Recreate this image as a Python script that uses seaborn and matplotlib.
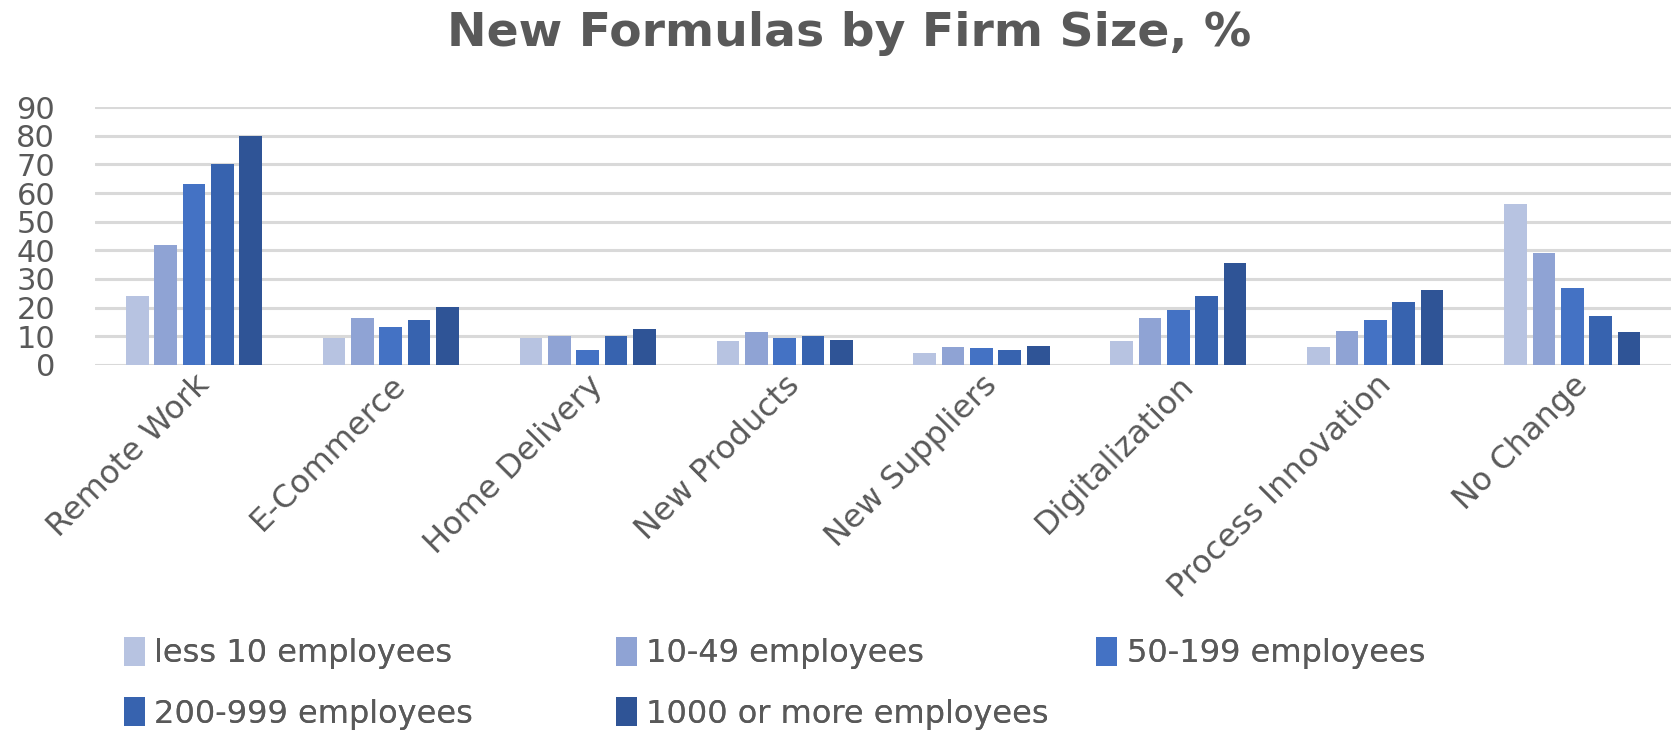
import numpy as np
import pandas as pd
import matplotlib
matplotlib.use("Agg")
import matplotlib.pyplot as plt
import seaborn as sns

# categories and firm-size groups
categories = ["Remote Work", "E-Commerce", "Home Delivery", "New Products",
              "New Suppliers", "Digitalization", "Process Innovation", "No Change"]
sizes = ["less 10 employees", "10-49 employees", "50-199 employees",
         "200-999 employees", "1000 or more employees"]

# values (%), one list per firm size
less_10 = [24, 9.5, 9.5, 8.4, 4, 8.4, 6.1, 56]
from_10_49 = [42, 16.2, 10, 11.3, 6.1, 16.2, 11.9, 39]
from_50_199 = [63, 13.3, 5, 9.5, 5.7, 19.1, 15.6, 26.7]
from_200_999 = [70.3, 15.6, 10.2, 10.2, 5, 24.2, 22.1, 17.2]
over_1000 = [80, 20.1, 12.4, 8.7, 6.4, 35.6, 26, 11.5]

colors = ["#B7C3E1", "#8FA3D4", "#4472C4", "#3763AF", "#2F5496"]

series = [less_10, from_10_49, from_50_199, from_200_999, over_1000]
df = pd.DataFrame({
    "category": np.tile(categories, len(sizes)),
    "size": np.repeat(sizes, len(categories)),
    "value": np.concatenate(series),
})

sns.set_style("white")
plt.rcParams["font.family"] = ["DejaVu Sans"]
txt = "#595959"

fig = plt.figure(figsize=(16.74, 7.34), dpi=100)
ax = fig.add_axes([0.057, 0.503, 0.941, 0.351])

sns.barplot(data=df, x="category", y="value", hue="size", order=categories,
            hue_order=sizes, palette=colors, width=0.72, gap=0.2,
            linewidth=0, saturation=1, ax=ax, zorder=3)

ax.set_ylim(0, 90)
ax.set_yticks(range(0, 91, 10))
ax.set_xlim(-0.5, len(categories) - 0.5)
ax.grid(axis="y", color="#D9D9D9", linewidth=2.2, zorder=0)
ax.set_axisbelow(True)
for s in ax.spines.values():
    s.set_visible(False)
ax.tick_params(axis="both", length=0, colors=txt)
ax.tick_params(axis="y", pad=29, labelsize=22)
ax.set_xticks(range(len(categories)))
ax.set_xticklabels(categories, rotation=45, ha="right", rotation_mode="anchor",
                   fontsize=23, color=txt)
ax.set_xlabel("")
ax.set_ylabel("")

# legend laid out in three columns, filled row by row
handles, labels = ax.get_legend_handles_labels()
ax.get_legend().remove()
col_x = [0.074, 0.368, 0.655]
cols = [[0, 3], [1, 4], [2]]
for x, idx in zip(col_x, cols):
    leg = fig.legend([handles[i] for i in idx], [labels[i] for i in idx],
                     loc="upper left", bbox_to_anchor=(x, 0.132),
                     frameon=False, fontsize=23, handlelength=0.65,
                     handleheight=1.0, handletextpad=0.3, labelspacing=0.875,
                     borderpad=0, borderaxespad=0, labelcolor=txt)
    fig.add_artist(leg)

fig.suptitle("New Formulas by Firm Size, %", x=0.507, y=0.985,
             fontsize=34, fontweight="bold", color=txt)

fig.savefig("out.png", dpi=100, facecolor="white")
